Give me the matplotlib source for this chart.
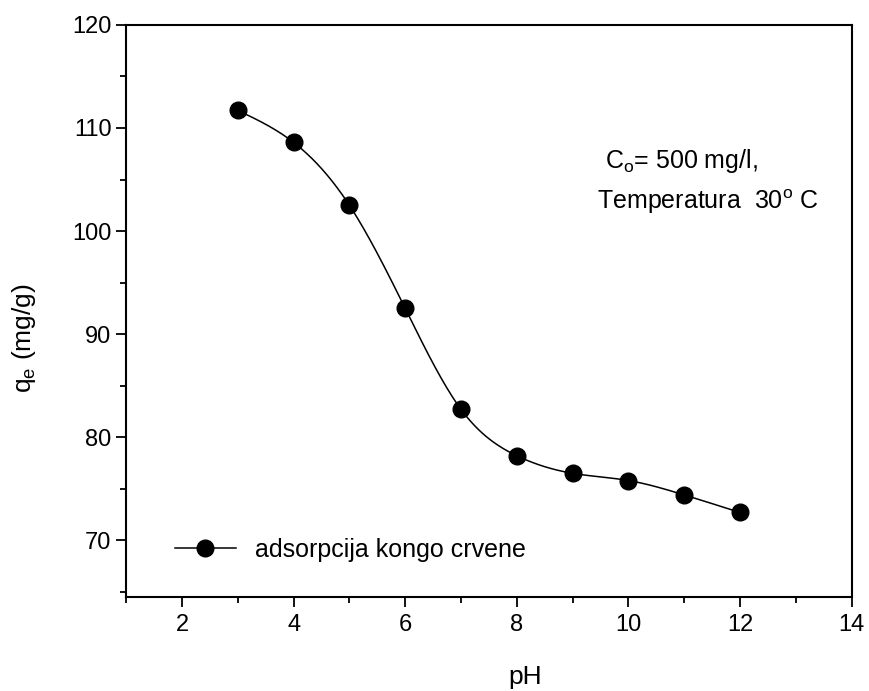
import numpy as np
import matplotlib
matplotlib.use("Agg")
import matplotlib.pyplot as plt
from matplotlib.ticker import MultipleLocator

plt.rcParams['font.family'] = ['Liberation Sans', 'DejaVu Sans']
plt.rcParams['mathtext.fontset'] = 'custom'
plt.rcParams['mathtext.rm'] = 'Liberation Sans'
plt.rcParams['mathtext.it'] = 'Liberation Sans'

ph = [3, 4, 5, 6, 7, 8, 9, 10, 11, 12]
qe = [111.7, 108.6, 102.5, 92.5, 82.7, 78.2, 76.5, 75.8, 74.4, 72.7]
legend_label = "adsorpcija kongo crvene"


def natural_spline(x, y, n=400):
    # plain natural cubic spline, just for drawing the smooth line
    x = np.asarray(x, float)
    y = np.asarray(y, float)
    k = len(x)
    h = np.diff(x)
    A = np.zeros((k, k))
    b = np.zeros(k)
    A[0, 0] = A[-1, -1] = 1
    for i in range(1, k - 1):
        A[i, i - 1] = h[i - 1]
        A[i, i] = 2 * (h[i - 1] + h[i])
        A[i, i + 1] = h[i]
        b[i] = 3 * ((y[i + 1] - y[i]) / h[i] - (y[i] - y[i - 1]) / h[i - 1])
    c = np.linalg.solve(A, b)
    xs = np.linspace(x[0], x[-1], n)
    idx = np.clip(np.searchsorted(x, xs) - 1, 0, k - 2)
    dx = xs - x[idx]
    bb = (y[idx + 1] - y[idx]) / h[idx] - h[idx] * (2 * c[idx] + c[idx + 1]) / 3
    dd = (c[idx + 1] - c[idx]) / (3 * h[idx])
    ys = y[idx] + bb * dx + c[idx] * dx ** 2 + dd * dx ** 3
    return xs, ys


fig = plt.figure(figsize=(8.7, 6.91), dpi=100)
ax = fig.add_axes([0.145, 0.136, 0.834, 0.828])

xs, ys = natural_spline(ph, qe)
ax.plot(xs, ys, color="black", lw=1.1)
ax.plot(ph, qe, "o", color="black", ms=12)

# legend handle drawn as line + marker
ax.plot([], [], "-o", color="black", ms=12, lw=1.1, label=legend_label)
ax.legend(loc="center left", bbox_to_anchor=(0.067, 0.083), frameon=False,
          fontsize=18, handlelength=2.45, handletextpad=0.75,
          borderaxespad=0, borderpad=0)

ax.set_xlim(1, 14)
ax.set_ylim(64.5, 120)
ax.xaxis.set_major_locator(MultipleLocator(2))
ax.xaxis.set_minor_locator(MultipleLocator(1))
ax.yaxis.set_major_locator(MultipleLocator(10))
ax.yaxis.set_minor_locator(MultipleLocator(5))
ax.set_yticks([70, 80, 90, 100, 110, 120])
ax.set_xticks([2, 4, 6, 8, 10, 12, 14])

ax.tick_params(which="both", direction="out", width=1.3, labelsize=17)
ax.tick_params(which="major", length=7)
ax.tick_params(which="minor", length=4)
ax.tick_params(axis="x", pad=5)
ax.tick_params(top=False, right=False)
for s in ax.spines.values():
    s.set_linewidth(1.5)

ax.set_xlabel("pH", fontsize=19)
ax.xaxis.set_label_coords(0.55, -0.118)
ax.set_ylabel(r"q$_\mathregular{e}$ (mg/g)", fontsize=19)
ax.yaxis.set_label_coords(-0.122, 0.453)

ax.text(0.66, 0.75, r"C$_\mathregular{o}$= 500 mg/l,", transform=ax.transAxes,
        fontsize=18, va="baseline")
ax.text(0.649, 0.678, r"Temperatura  30$^\mathregular{o}$ C", transform=ax.transAxes,
        fontsize=18, va="baseline")

fig.savefig("out.png", dpi=100)
